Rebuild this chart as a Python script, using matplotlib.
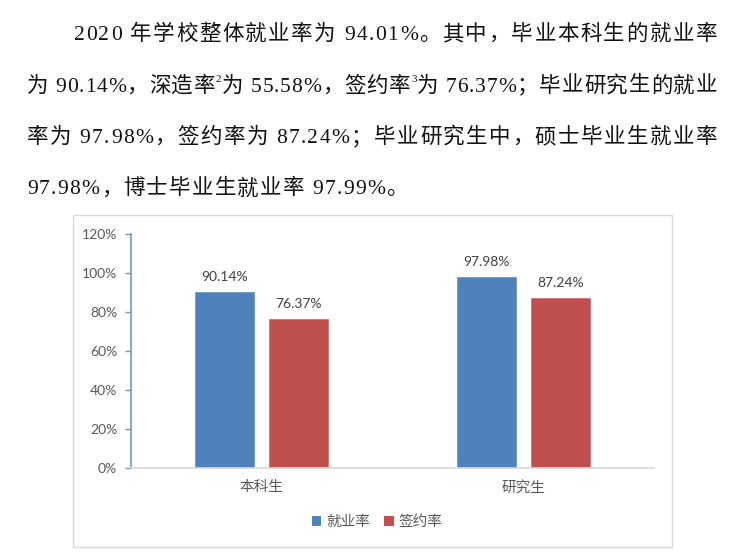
import matplotlib

matplotlib.use("Agg")
import matplotlib.pyplot as plt
from matplotlib.font_manager import FontProperties, findfont, get_font
from matplotlib.patches import Rectangle, Patch

# ---- data ----
categories = ["本科生", "研究生"]
employment_rate = [90.14, 97.98]   # 就业率
contract_rate = [76.37, 87.24]     # 签约率
series_names = ["就业率", "签约率"]
y_ticks = [0, 20, 40, 60, 80, 100, 120]

paragraph = [
    "2020 年学校整体就业率为 94.01%。其中，毕业本科生的就业率",
    "为 90.14%，深造率²为 55.58%，签约率³为 76.37%；毕业研究生的就业",
    "率为 97.98%，签约率为 87.24%；毕业研究生中，硕士毕业生就业率",
    "97.98%，博士毕业生就业率 97.99%。",
]

W, H, DPI = 729, 556, 100
CJK = "Noto Sans CJK SC"
LATIN = "Liberation Serif"
PARA_SIZE = 15.5
SUPERSCRIPTS = {"²": "2", "³": "3"}

BLUE = "#4F81BD"
RED = "#C0504D"
GREY_TEXT = "#595959"


def fx(px):
    return px / W


def fy(py):
    return 1 - py / H


def advance(ch, family, size):
    font = get_font(findfont(FontProperties(family=family)))
    font.set_size(size, DPI)
    glyph = font.load_char(ord(ch))
    return glyph.linearHoriAdvance / 65536


def glyphs_of(line):
    out = []
    for ch in line:
        if ch in SUPERSCRIPTS:
            out.append((SUPERSCRIPTS[ch], LATIN, 8.0, 9))
        elif ord(ch) < 128:
            out.append((ch, LATIN, PARA_SIZE, 0))
        else:
            out.append((ch, CJK, PARA_SIZE, 0))
    return out


def draw_line(fig, line, x0, x1, baseline, extra=None):
    """Lay a paragraph line out char by char, justified like Word does."""
    items = glyphs_of(line)
    widths = [advance(c, fam, sz) for c, fam, sz, _ in items]
    if extra is None:
        extra = (x1 - x0 - sum(widths)) / (len(items) - 1)
    x = x0
    for (c, fam, sz, rise), w in zip(items, widths):
        if c != " ":
            fig.text(fx(x), fy(baseline - rise), c, family=fam, fontsize=sz,
                     color="#111111", ha="left", va="baseline")
        x += w + extra
    return extra


fig = plt.figure(figsize=(W / DPI, H / DPI), dpi=DPI)

# paragraph above the chart
starts = [74, 27, 27, 27]
baselines = [40, 91.5, 143, 194.5]
extras = []
for i, (line, x0, yb) in enumerate(zip(paragraph, starts, baselines)):
    if i < len(paragraph) - 1:
        extras.append(draw_line(fig, line, x0, 717, yb))
    else:
        draw_line(fig, line, x0, 717, yb, extra=sum(extras) / len(extras))

# chart frame
fig.patches.append(Rectangle((fx(73), fy(547)), fx(672) - fx(73), fy(215) - fy(547),
                             transform=fig.transFigure, fill=False,
                             edgecolor="#d9d9d9", linewidth=1.0))

ax = fig.add_axes([fx(131), fy(468), fx(654) - fx(131), fy(234) - fy(468)])
ax.set_facecolor("none")

bar_w = 0.226
offset = 0.142
xs = list(range(len(categories)))
b1 = ax.bar([x - offset for x in xs], employment_rate, bar_w, color=BLUE,
            edgecolor="#6f97c9", linewidth=0.6, label=series_names[0])
b2 = ax.bar([x + offset for x in xs], contract_rate, bar_w, color=RED,
            edgecolor="#cf7471", linewidth=0.6, label=series_names[1])

for bars, vals in ((b1, employment_rate), (b2, contract_rate)):
    for rect, v in zip(bars, vals):
        ax.annotate(f"{v:.2f}%", (rect.get_x() + rect.get_width() / 2, v),
                    xytext=(0, 6.5), textcoords="offset points",
                    ha="center", va="bottom", fontsize=10, family="Lato",
                    color="#404040")

ax.set_xlim(-0.5, 1.5)
ax.set_ylim(0, 120)
ax.set_yticks(y_ticks)
ax.set_yticklabels([f"{v}%" for v in y_ticks], family="Lato", fontsize=10,
                   color=GREY_TEXT)
ax.set_xticks(xs)
ax.set_xticklabels(categories, family=CJK, fontsize=10.5, color=GREY_TEXT)
ax.tick_params(axis="x", length=0, pad=9)
ax.tick_params(axis="y", direction="out", length=4, width=1, color="#7096c8", pad=6)

for side in ("top", "right"):
    ax.spines[side].set_visible(False)
ax.spines["left"].set_color("#7096c8")
ax.spines["left"].set_linewidth(1.2)
ax.spines["bottom"].set_color("#d9d9d9")
ax.spines["bottom"].set_linewidth(1.2)

handles = [Patch(facecolor=BLUE, label=series_names[0]),
           Patch(facecolor=RED, label=series_names[1])]
leg = fig.legend(handles=handles, loc="center", ncol=2,
                 bbox_to_anchor=(fx(377), fy(522)), frameon=False,
                 handlelength=0.65, handleheight=0.65, handletextpad=0.3,
                 columnspacing=1.0, prop=FontProperties(family=CJK, size=10.5))
for t in leg.get_texts():
    t.set_color(GREY_TEXT)

fig.savefig("out.png", dpi=DPI)
plt.close(fig)
